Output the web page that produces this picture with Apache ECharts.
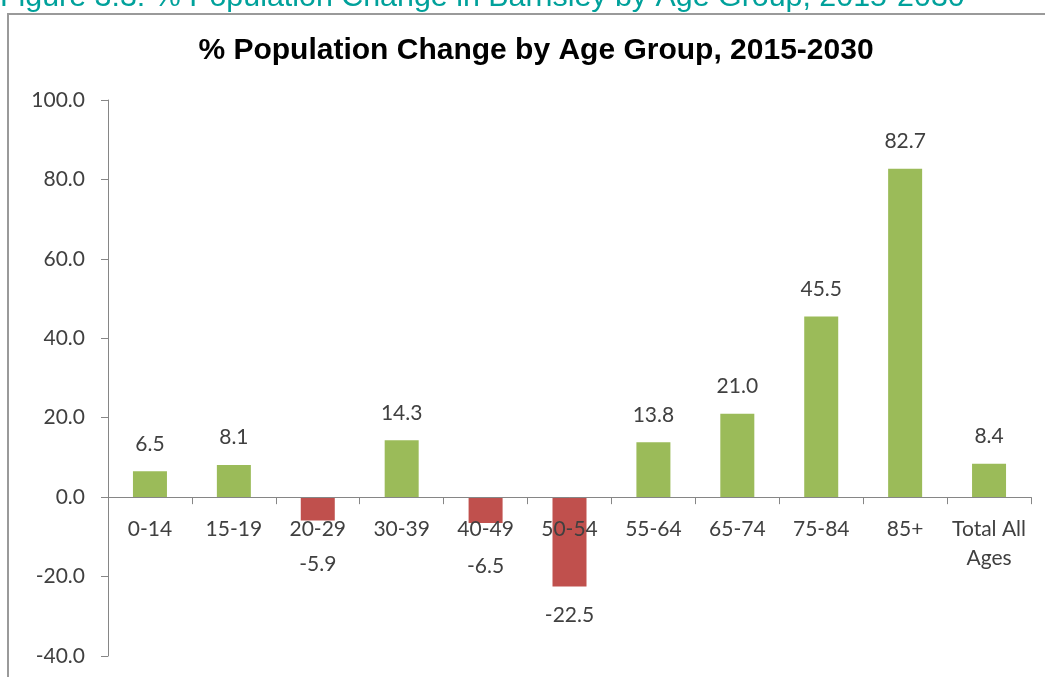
<!DOCTYPE html>
<html><head><meta charset="utf-8">
<script src="https://cdn.jsdelivr.net/npm/echarts@6/dist/echarts.min.js"></script>
<style>html,body{margin:0;padding:0;background:#fff}#c{width:1045px;height:677px}</style>
</head><body><div id="c"></div>
<script>
const categories = ['0-14','15-19','20-29','30-39','40-49','50-54','55-64','65-74','75-84','85+','Total All Ages'];
const values = [6.5, 8.1, -5.9, 14.3, -6.5, -22.5, 13.8, 21.0, 45.5, 82.7, 8.4];
const yTicks = [-40, 100, 20];
const captionText = 'Figure 3.3: % Population Change in Barnsley by Age Group, 2015-2030';
const titleText = '% Population Change by Age Group, 2015-2030';

const GREEN = '#9bbb59', RED = '#c0504d', TXT = '#404040', AX = '#868686';
const W = 1045, H = 677;
const grid = {left: 108, right: 14, top: 100, bottom: 21};
const gridH = H - grid.top - grid.bottom;
// move the category axis up from the grid bottom to the zero line
const zeroOffset = -gridH * (0 - yTicks[0]) / (yTicks[1] - yTicks[0]);

const chart = echarts.init(document.getElementById('c'));
chart.setOption({
  animation: false,
  backgroundColor: '#fff',
  title: {
    text: titleText, left: 531, top: 31, textAlign: 'center',
    textStyle: {fontFamily: 'Liberation Sans', fontWeight: 'bold', fontSize: 30, color: '#000'}
  },
  graphic: [
    {type: 'text', left: 0, top: -17, style: {text: captionText, fontFamily: 'Liberation Sans', fontSize: 30.4, fill: '#00a19b'}},
    {type: 'rect', shape: {x: 8, y: 14, width: 1100, height: 700}, style: {fill: 'none', stroke: '#9a9a9a', lineWidth: 2}, silent: true}
  ],
  grid: Object.assign({containLabel: false, outerBoundsMode: 'none'}, grid),
  xAxis: {
    type: 'category', data: categories, position: 'bottom', offset: zeroOffset, z: 5,
    axisLine: {onZero: false, lineStyle: {color: AX}},
    axisTick: {show: true, length: 7, lineStyle: {color: AX}},
    axisLabel: {
      margin: 18, color: TXT, fontFamily: 'Lato', fontSize: 21, lineHeight: 29, interval: 0,
      formatter: v => v === 'Total All Ages' ? 'Total All\nAges' : v
    }
  },
  yAxis: {
    type: 'value', min: yTicks[0], max: yTicks[1], interval: yTicks[2],
    axisLine: {show: true, lineStyle: {color: AX}},
    axisTick: {show: true, length: 7, lineStyle: {color: AX}},
    splitLine: {show: false},
    axisLabel: {margin: 23, color: TXT, fontFamily: 'Lato', fontSize: 21, formatter: v => v.toFixed(1)}
  },
  series: [{
    type: 'bar', barWidth: 34, z: 2,
    data: values.map(v => ({
      value: v,
      itemStyle: {color: v >= 0 ? GREEN : RED},
      label: v >= 0 ? {position: 'top', distance: 17} : {position: 'bottom', distance: v > -15 ? 33 : 18}
    })),
    label: {show: true, color: TXT, fontFamily: 'Lato', fontSize: 21, formatter: p => p.value.toFixed(1)}
  }]
});
</script></body></html>
